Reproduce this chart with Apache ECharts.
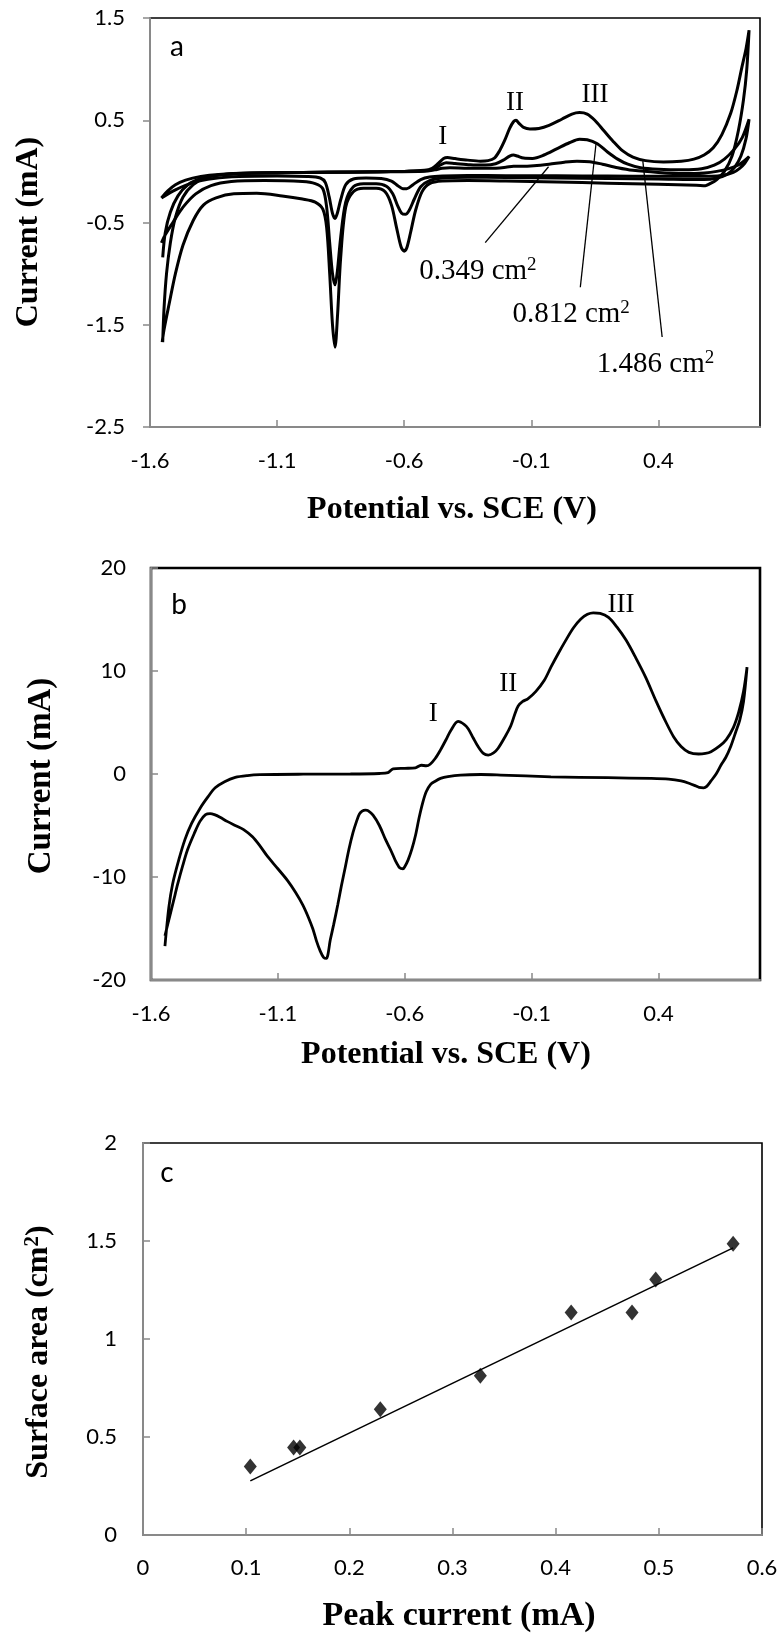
<!DOCTYPE html>
<html><head><meta charset="utf-8">
<script src="https://cdn.jsdelivr.net/npm/echarts@6/dist/echarts.min.js"></script>
<style>html,body{margin:0;padding:0;background:#fff}#c{width:782px;height:1634px}</style>
</head><body><div id="c"></div>
<script>
// ---------- Panel a: CVs of three electrodes (Potential V, Current mA) ----------
const cvA_1486 = [
 [-1.55,-1.67],[-1.545,-1.35],[-1.535,-1.0],[-1.52,-0.7],[-1.5,-0.45],[-1.47,-0.25],[-1.43,-0.13],[-1.38,-0.06],[-1.31,-0.03],[-1.2,-0.015],[-1.0,-0.01],[-0.8,-0.005],[-0.6,0.0],[-0.52,0.01],[-0.49,0.03],[-0.465,0.08],[-0.445,0.125],[-0.43,0.135],[-0.4,0.125],[-0.35,0.11],[-0.3,0.1],[-0.27,0.105],[-0.245,0.13],[-0.225,0.2],[-0.205,0.3],[-0.185,0.42],[-0.17,0.485],[-0.16,0.5],[-0.148,0.47],[-0.13,0.43],[-0.105,0.415],[-0.07,0.42],[-0.03,0.45],[0.02,0.51],[0.06,0.56],[0.09,0.575],[0.12,0.56],[0.15,0.5],[0.185,0.4],[0.22,0.3],[0.26,0.2],[0.3,0.14],[0.35,0.105],[0.42,0.092],[0.49,0.1],[0.54,0.12],[0.58,0.16],[0.616,0.23],[0.65,0.36],[0.685,0.57],[0.71,0.8],[0.728,1.01],[0.745,1.2],[0.757,1.38],
 [0.748,1.0],[0.735,0.7],[0.715,0.4],[0.69,0.15],[0.66,0.0],[0.63,-0.08],[0.6,-0.125],[0.585,-0.14],[0.55,-0.135],[0.4,-0.125],[0.2,-0.115],[0.0,-0.105],[-0.2,-0.095],[-0.35,-0.09],[-0.45,-0.095],[-0.5,-0.12],[-0.53,-0.2],[-0.555,-0.38],[-0.575,-0.6],[-0.59,-0.75],[-0.6,-0.78],[-0.612,-0.74],[-0.63,-0.55],[-0.65,-0.33],[-0.675,-0.2],[-0.71,-0.165],[-0.76,-0.165],[-0.8,-0.2],[-0.83,-0.35],[-0.85,-0.85],[-0.862,-1.4],[-0.872,-1.72],[-0.882,-1.5],[-0.893,-1.0],[-0.905,-0.55],[-0.92,-0.37],[-0.95,-0.3],[-1.0,-0.27],[-1.08,-0.24],[-1.18,-0.215],[-1.27,-0.22],[-1.34,-0.26],[-1.39,-0.33],[-1.43,-0.48],[-1.47,-0.72],[-1.5,-1.0],[-1.525,-1.3],[-1.545,-1.55],[-1.552,-1.67]
];
const cvA_0812 = [
 [-1.55,-0.84],[-1.54,-0.6],[-1.52,-0.4],[-1.49,-0.24],[-1.45,-0.13],[-1.4,-0.07],[-1.33,-0.035],[-1.2,-0.018],[-1.0,-0.01],[-0.8,-0.005],[-0.6,0.0],[-0.52,0.005],[-0.48,0.03],[-0.455,0.065],[-0.435,0.085],[-0.4,0.078],[-0.34,0.065],[-0.28,0.062],[-0.24,0.075],[-0.21,0.11],[-0.185,0.15],[-0.17,0.16],[-0.155,0.15],[-0.13,0.13],[-0.095,0.127],[-0.05,0.16],[0.0,0.22],[0.05,0.28],[0.09,0.315],[0.12,0.31],[0.16,0.27],[0.2,0.19],[0.24,0.12],[0.28,0.07],[0.33,0.035],[0.4,0.02],[0.5,0.015],[0.57,0.025],[0.62,0.06],[0.66,0.12],[0.7,0.22],[0.73,0.33],[0.757,0.51],
 [0.745,0.32],[0.725,0.15],[0.7,0.04],[0.67,-0.03],[0.63,-0.065],[0.58,-0.08],[0.4,-0.075],[0.2,-0.07],[0.0,-0.065],[-0.2,-0.06],[-0.35,-0.058],[-0.45,-0.065],[-0.5,-0.09],[-0.535,-0.15],[-0.56,-0.27],[-0.58,-0.38],[-0.595,-0.42],[-0.61,-0.41],[-0.625,-0.34],[-0.645,-0.22],[-0.67,-0.145],[-0.71,-0.12],[-0.76,-0.12],[-0.8,-0.15],[-0.83,-0.3],[-0.85,-0.65],[-0.863,-0.98],[-0.872,-1.11],[-0.882,-1.0],[-0.893,-0.7],[-0.905,-0.35],[-0.92,-0.17],[-0.95,-0.12],[-1.0,-0.1],[-1.15,-0.09],[-1.28,-0.1],[-1.36,-0.14],[-1.42,-0.22],[-1.47,-0.35],[-1.51,-0.5],[-1.54,-0.62],[-1.555,-0.7]
];
const cvA_0349 = [
 [-1.555,-0.26],[-1.53,-0.19],[-1.5,-0.13],[-1.46,-0.085],[-1.4,-0.05],[-1.33,-0.03],[-1.2,-0.017],[-1.0,-0.01],[-0.7,-0.005],[-0.52,0.0],[-0.48,0.015],[-0.45,0.03],[-0.42,0.035],[-0.35,0.03],[-0.26,0.03],[-0.2,0.04],[-0.17,0.05],[-0.14,0.05],[-0.09,0.055],[-0.03,0.07],[0.03,0.09],[0.08,0.1],[0.13,0.095],[0.18,0.07],[0.24,0.035],[0.3,0.01],[0.4,-0.01],[0.5,-0.02],[0.58,-0.015],[0.63,0.0],[0.68,0.03],[0.72,0.07],[0.757,0.145],
 [0.74,0.08],[0.72,0.03],[0.695,-0.01],[0.66,-0.035],[0.61,-0.048],[0.4,-0.048],[0.2,-0.046],[0.0,-0.044],[-0.2,-0.042],[-0.35,-0.04],[-0.45,-0.045],[-0.5,-0.055],[-0.535,-0.08],[-0.565,-0.13],[-0.59,-0.17],[-0.605,-0.17],[-0.625,-0.14],[-0.65,-0.095],[-0.69,-0.07],[-0.75,-0.065],[-0.8,-0.075],[-0.83,-0.13],[-0.85,-0.28],[-0.863,-0.41],[-0.872,-0.46],[-0.882,-0.41],[-0.895,-0.25],[-0.91,-0.11],[-0.93,-0.065],[-0.98,-0.05],[-1.1,-0.045],[-1.25,-0.05],[-1.35,-0.07],[-1.43,-0.11],[-1.5,-0.18],[-1.555,-0.26]
];
// ---------- Panel b: single CV (Potential V, Current mA) ----------
const cvB = [
 [-1.545,-16.7],[-1.53,-13.0],[-1.515,-10.7],[-1.49,-8.3],[-1.466,-6.35],[-1.44,-4.8],[-1.407,-3.34],[-1.375,-2.2],[-1.347,-1.34],[-1.31,-0.75],[-1.268,-0.33],[-1.22,-0.15],[-1.17,-0.07],[-1.0,-0.02],[-0.814,0.0],[-0.7,0.05],[-0.666,0.13],[-0.646,0.5],[-0.6,0.55],[-0.558,0.6],[-0.535,0.85],[-0.515,0.8],[-0.5,0.95],[-0.48,1.5],[-0.459,2.34],[-0.438,3.3],[-0.419,4.2],[-0.39,5.1],[-0.365,4.8],[-0.35,4.4],[-0.33,3.5],[-0.311,2.67],[-0.29,2.0],[-0.271,1.84],[-0.25,2.05],[-0.232,2.5],[-0.205,3.6],[-0.182,4.68],[-0.165,5.9],[-0.153,6.6],[-0.135,7.05],[-0.115,7.3],[-0.084,8.0],[-0.05,9.1],[-0.024,10.37],[0.005,11.7],[0.035,13.0],[0.065,14.2],[0.094,15.05],[0.12,15.5],[0.143,15.65],[0.17,15.6],[0.203,15.2],[0.235,14.3],[0.272,13.0],[0.31,11.3],[0.35,9.36],[0.39,7.1],[0.43,5.0],[0.46,3.6],[0.489,2.67],[0.52,2.1],[0.558,1.94],[0.585,2.0],[0.607,2.17],[0.64,2.7],[0.667,3.34],[0.695,4.5],[0.716,6.0],[0.735,8.0],[0.749,10.37],
 [0.735,7.0],[0.72,5.2],[0.706,4.2],[0.685,2.7],[0.665,1.6],[0.647,0.9],[0.627,0.0],[0.607,-0.67],[0.59,-1.2],[0.578,-1.34],[0.56,-1.3],[0.548,-1.17],[0.52,-0.9],[0.489,-0.67],[0.44,-0.5],[0.37,-0.43],[0.2,-0.36],[-0.024,-0.27],[-0.222,-0.1],[-0.3,-0.05],[-0.38,-0.1],[-0.43,-0.25],[-0.459,-0.43],[-0.48,-0.7],[-0.498,-1.0],[-0.515,-1.7],[-0.528,-2.68],[-0.543,-4.2],[-0.558,-6.0],[-0.572,-7.3],[-0.587,-8.36],[-0.6,-9.0],[-0.607,-9.2],[-0.62,-9.1],[-0.637,-8.4],[-0.655,-7.4],[-0.676,-6.35],[-0.7,-5.0],[-0.725,-4.0],[-0.745,-3.55],[-0.755,-3.5],[-0.768,-3.6],[-0.779,-3.9],[-0.79,-4.6],[-0.804,-5.69],[-0.82,-7.3],[-0.834,-9.0],[-0.85,-10.9],[-0.864,-12.7],[-0.88,-14.6],[-0.893,-16.05],[-0.909,-17.9],[-0.92,-17.8],[-0.933,-17.2],[-0.948,-16.2],[-0.962,-15.05],[-0.98,-13.9],[-1.002,-12.7],[-1.03,-11.5],[-1.061,-10.37],[-1.1,-9.2],[-1.14,-8.03],[-1.17,-7.0],[-1.2,-6.1],[-1.235,-5.4],[-1.268,-5.0],[-1.3,-4.6],[-1.328,-4.2],[-1.35,-3.95],[-1.367,-3.85],[-1.385,-3.95],[-1.407,-4.6],[-1.43,-5.8],[-1.456,-7.36],[-1.475,-8.9],[-1.495,-10.7],[-1.51,-12.2],[-1.525,-13.7],[-1.545,-15.7]
];
// ---------- Panel c: surface area vs peak current ----------
const peakCurrent = [0.104, 0.146, 0.152, 0.230, 0.327, 0.415, 0.474, 0.497, 0.572];
const surfaceArea = [0.349, 0.447, 0.447, 0.641, 0.812, 1.135, 1.135, 1.303, 1.486];
const trendX = [0.104, 0.572];
const trendY = [0.276, 1.465];
// ---------- tick values ----------
const potentialTicks = [-1.6, -1.1, -0.6, -0.1, 0.4];
const currentTicksA = [-2.5, -1.5, -0.5, 0.5, 1.5];
const currentTicksB = [-20, -10, 0, 10, 20];
const peakTicks = [0, 0.1, 0.2, 0.3, 0.4, 0.5, 0.6];
const areaTicks = [0, 0.5, 1, 1.5, 2];
const areaLabels = ['0.349 cm²', '0.812 cm²', '1.486 cm²'];

const AX = '#898989';
const tickFont = {fontFamily: 'Lato', fontSize: 22, color: '#000'};
function xAxisCfg(grid, ticks, max, opts) {
  return {type: 'value', gridIndex: grid, min: ticks[0], max: max, interval: ticks[1] - ticks[0],
    axisLine: {show: true, onZero: false, lineStyle: {color: AX, width: 2}},
    axisTick: {show: true, inside: true, length: 7, lineStyle: {color: AX, width: 1.5}},
    axisLabel: Object.assign({margin: opts.margin || 23, showMaxLabel: opts.showMax}, tickFont),
    splitLine: {show: false}};
}
function yAxisCfg(grid, ticks, inside, margin) {
  return {type: 'value', gridIndex: grid, min: ticks[0], max: ticks[ticks.length - 1], interval: ticks[1] - ticks[0],
    axisLine: {show: true, onZero: false, lineStyle: {color: AX, width: 2}},
    axisTick: {show: true, inside: inside, length: 7, lineStyle: {color: AX, width: 1.5}},
    axisLabel: Object.assign({margin: margin}, tickFont),
    splitLine: {show: false}};
}
function cvSeries(data, xi, width, extra) {
  return Object.assign({type: 'line', xAxisIndex: xi, yAxisIndex: xi, data: data, showSymbol: false, symbol: 'none',
    smooth: 0.3, lineStyle: {color: '#000', width: width}, itemStyle: {color: '#000'}, silent: true, z: 3}, extra || {});
}
const serif = 'Liberation Serif';
function numeral(name, coord) {
  return {name: name, coord: coord, symbol: 'circle', symbolSize: 0,
    label: {show: true, position: 'inside', formatter: '{b}', fontFamily: serif, fontSize: 27, color: '#000'}};
}
const supRich = {s: {fontFamily: serif, fontSize: 19, lineHeight: 32, verticalAlign: 'top', color: '#000'}};
function areaLabel(name, coord) {
  return {name: name, coord: coord, symbol: 'circle', symbolSize: 0,
    label: {show: true, position: 'inside', formatter: p => p.name.replace('²', '{s|2}'),
      fontFamily: serif, fontSize: 29, lineHeight: 32, color: '#000', rich: supRich}};
}
function gtext(text, x, y, size, rot, family, weight, rich) {
  return {type: 'text', x: x, y: y, rotation: rot || 0, silent: true,
    style: {text: text, fontSize: size, fontFamily: family || serif, fontWeight: weight || 'bold', fill: '#000',
      align: 'center', verticalAlign: 'middle', textAlign: 'center', textVerticalAlign: 'middle', rich: rich}};
}

const chart = echarts.init(document.getElementById('c'), null, {renderer: 'canvas'});
const option = {
  animation: false,
  backgroundColor: '#fff',
  grid: [
    {left: 150, right: 22, top: 18, height: 409, show: true, borderColor: '#000', borderWidth: 1.6, outerBoundsMode: 'none', containLabel: false},
    {left: 151, right: 22, top: 568, height: 412, show: true, borderColor: '#000', borderWidth: 2.6, outerBoundsMode: 'none', containLabel: false},
    {left: 143, right: 20, top: 1143, height: 392, show: true, borderColor: '#000', borderWidth: 1.6, outerBoundsMode: 'none', containLabel: false}
  ],
  xAxis: [
    xAxisCfg(0, potentialTicks, 0.8, {showMax: false}),
    xAxisCfg(1, potentialTicks, 0.8, {showMax: false}),
    xAxisCfg(2, peakTicks, peakTicks[peakTicks.length - 1], {showMax: true, margin: 22})
  ],
  yAxis: [
    yAxisCfg(0, currentTicksA, false, 25),
    yAxisCfg(1, currentTicksB, true, 25),
    yAxisCfg(2, areaTicks, true, 26)
  ],
  series: [
    cvSeries(cvA_0349, 0, 3),
    cvSeries(cvA_0812, 0, 3),
    cvSeries(cvA_1486, 0, 3, {
      markLine: {silent: true, symbol: ['none', 'none'], label: {show: false}, animation: false,
        lineStyle: {color: '#000', width: 1.3, type: 'solid'},
        data: [
          [{coord: [-0.032, 0.045]}, {coord: [-0.281, -0.697]}],
          [{coord: [0.155, 0.275]}, {coord: [0.093, -1.133]}],
          [{coord: [0.339, 0.1]}, {coord: [0.415, -1.62]}]
        ]},
      markPoint: {silent: true, animation: false, data: [
        numeral('I', [-0.448, 0.336]), numeral('II', [-0.164, 0.67]), numeral('III', [0.151, 0.747]),
        areaLabel(areaLabels[0], [-0.31, -0.98]), areaLabel(areaLabels[1], [0.057, -1.403]), areaLabel(areaLabels[2], [0.389, -1.892])
      ]}
    }),
    cvSeries(cvB, 1, 2.8, {
      markPoint: {silent: true, animation: false, data: [
        numeral('I', [-0.488, 5.85]), numeral('II', [-0.192, 8.7]), numeral('III', [0.252, 16.4])
      ]}
    }),
    {type: 'scatter', xAxisIndex: 2, yAxisIndex: 2, symbol: 'diamond', symbolSize: [13, 16],
      itemStyle: {color: '#000'}, data: peakCurrent.map((v, i) => [v, surfaceArea[i]]), z: 4, silent: true},
    {type: 'line', xAxisIndex: 2, yAxisIndex: 2, showSymbol: false, symbol: 'none', silent: true,
      lineStyle: {color: '#000', width: 1.6}, data: trendX.map((v, i) => [v, trendY[i]]), z: 3}
  ],
  graphic: [
    gtext('Potential vs. SCE (V)', 452, 510, 32),
    gtext('Current (mA)', 29, 232, 32, Math.PI / 2),
    gtext('a', 177, 47, 28, 0, 'Lato', 'normal'),
    gtext('Potential vs. SCE (V)', 446, 1055, 32),
    gtext('Current (mA)', 41, 776, 33, Math.PI / 2),
    gtext('b', 179, 605, 28, 0, 'Lato', 'normal'),
    gtext('Peak current (mA)', 459, 1616, 34),
    gtext('Surface area (cm{s|2})', 39, 1352, 32, Math.PI / 2, serif, 'bold',
      {s: {fontFamily: serif, fontWeight: 'bold', fontSize: 21, lineHeight: 34, verticalAlign: 'top', fill: '#000'}}),
    gtext('c', 167, 1173, 28, 0, 'Lato', 'normal')
  ]
};
chart.setOption(option);
</script>
</body></html>
